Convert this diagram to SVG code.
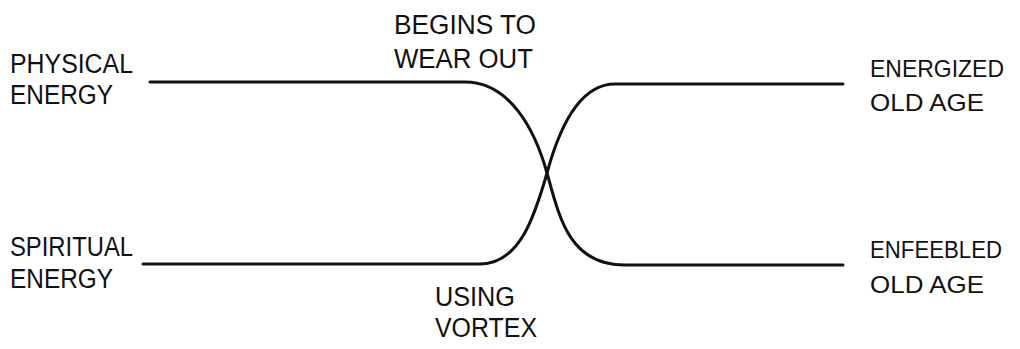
<svg xmlns="http://www.w3.org/2000/svg" width="1020" height="349" viewBox="0 0 1020 349">
<style>
text{font-family:"Liberation Sans",Arial,sans-serif;font-size:27px;fill:#111;}
.r{font-size:24.5px;}
.c{fill:none;stroke:#111;stroke-width:3;stroke-linecap:round;stroke-linejoin:round;}
</style>
<rect width="1020" height="349" fill="#fff"/>
<g id="physical"><text x="10" y="73" textLength="123" lengthAdjust="spacingAndGlyphs">PHYSICAL</text><text x="10" y="104" textLength="103" lengthAdjust="spacingAndGlyphs">ENERGY</text></g>
<g id="spiritual"><text x="10" y="256" textLength="123" lengthAdjust="spacingAndGlyphs">SPIRITUAL</text><text x="10" y="288" textLength="103" lengthAdjust="spacingAndGlyphs">ENERGY</text></g>
<g id="wear"><text x="394" y="34" textLength="142" lengthAdjust="spacingAndGlyphs">BEGINS TO</text><text x="394" y="68" textLength="139" lengthAdjust="spacingAndGlyphs">WEAR OUT</text></g>
<g id="vortex"><text x="435" y="306" textLength="80" lengthAdjust="spacingAndGlyphs">USING</text><text x="435" y="337" textLength="102" lengthAdjust="spacingAndGlyphs">VORTEX</text></g>
<g id="energized"><text class="r" x="870" y="77" textLength="134" lengthAdjust="spacingAndGlyphs">ENERGIZED</text><text class="r" x="870" y="111" textLength="114" lengthAdjust="spacingAndGlyphs">OLD AGE</text></g>
<g id="enfeebled"><text class="r" x="870" y="258" textLength="132" lengthAdjust="spacingAndGlyphs">ENFEEBLED</text><text class="r" x="870" y="293" textLength="114" lengthAdjust="spacingAndGlyphs">OLD AGE</text></g>
<g id="connectors">
<path class="c" d="M150,82 H465 C510,82 535,130 547,173 C560,220 570,265 625,265 H843"/>
<path class="c" d="M143,264 H480 C520,264 535,215 547,173 C560,125 580,84 615,84 H843"/>
</g>
</svg>
